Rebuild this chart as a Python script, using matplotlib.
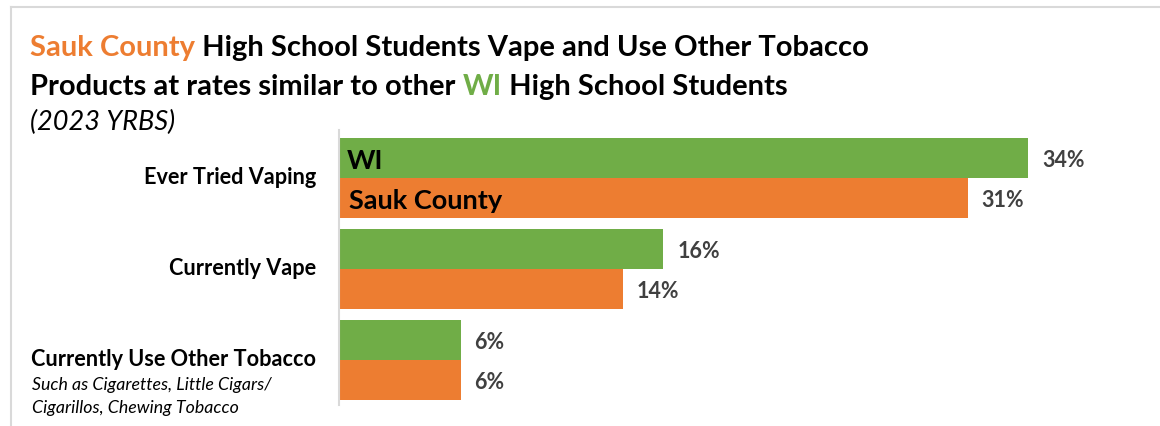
import matplotlib.pyplot as plt
from matplotlib.lines import Line2D
import matplotlib.transforms as mtransforms

plt.rcParams['font.family'] = ['Lato', 'DejaVu Sans']

# data
categories = ['Ever Tried Vaping', 'Currently Vape', 'Currently Use Other Tobacco']
wi_vals = [34, 16, 6]
sauk_vals = [31, 14, 6]
series_names = ['WI', 'Sauk County']

GREEN = '#70AD47'
ORANGE = '#ED7D31'
LABEL_GREY = '#404040'
FRAME = '#D9D9D9'

W, H = 1160, 426
fig = plt.figure(figsize=(W / 100, H / 100), dpi=100)
ax = fig.add_axes([339 / W, 1 - 405 / H, 811 / W, 275 / H])

h = 0.44
pos = list(range(len(categories)))
wi_y = [p - h / 2 for p in pos]
sauk_y = [p + h / 2 for p in pos]
ax.barh(wi_y, wi_vals, height=h, color=GREEN)
ax.barh(sauk_y, sauk_vals, height=h, color=ORANGE)

# value labels, nudged a touch lower like the original
for y, v in zip(wi_y + sauk_y, wi_vals + sauk_vals):
    ax.annotate(f'{v}%', (v, y), xytext=(10, -2), textcoords='offset points',
                ha='left', va='center', fontsize=15.5, fontweight='bold',
                color=LABEL_GREY)

# series names inside the first group bars
ax.annotate(series_names[0], (0.4, wi_y[0]), xytext=(0, -2),
            textcoords='offset points', ha='left', va='center',
            fontsize=19.5, fontweight='bold', color='black')
ax.annotate(series_names[1], (0.5, sauk_y[0]), xytext=(0, -2),
            textcoords='offset points', ha='left', va='center',
            fontsize=19.5, fontweight='bold', color='black')

ax.set_xlim(0, 40)
ax.set_ylim(2 + 45 / 91, -48 / 91)
ax.set_xticks([])
ax.set_yticks([])
for s in ['top', 'right', 'bottom']:
    ax.spines[s].set_visible(False)
ax.spines['left'].set_color(FRAME)
ax.spines['left'].set_linewidth(1.5)

# category labels
trans = mtransforms.blended_transform_factory(fig.transFigure, ax.transData)
for p, c in zip(pos, categories):
    ax.text(316 / W, p, c, transform=trans, ha='right', va='center',
            fontsize=15.6, fontweight='bold', color='black', clip_on=False)
fig.text(32 / W, 1 - 385 / H, 'Such as Cigarettes, Little Cigars/',
         ha='left', va='center', fontsize=12.8, style='italic')
fig.text(32 / W, 1 - 408 / H, 'Cigarillos, Chewing Tobacco',
         ha='left', va='center', fontsize=12.8, style='italic')


# multi-coloured title
def colored_line(pieces, x, y, **kw):
    fig.canvas.draw()
    r = fig.canvas.get_renderer()
    for txt, col in pieces:
        t = fig.text(x, y, txt, color=col, ha='left', va='center', **kw)
        bb = t.get_window_extent(renderer=r)
        x += bb.width / W


colored_line([('Sauk County', ORANGE),
              (' High School Students Vape and Use Other Tobacco', 'black')],
             30 / W, 1 - 48 / H, fontsize=21, fontweight='bold')
colored_line([('Products at rates similar to other ', 'black'),
              ('WI', GREEN),
              (' High School Students', 'black')],
             30 / W, 1 - 87 / H, fontsize=21, fontweight='bold')
fig.text(30 / W, 1 - 122 / H, '(2023 YRBS)', ha='left', va='center',
         fontsize=19.5, style='italic')

# light frame on top and left
fig.add_artist(Line2D([11 / W, 1], [1 - 7 / H, 1 - 7 / H],
                      transform=fig.transFigure, color=FRAME, lw=1.5))
fig.add_artist(Line2D([11 / W, 11 / W], [0, 1 - 7 / H],
                      transform=fig.transFigure, color=FRAME, lw=1.5))

fig.savefig('out.png', dpi=100)
